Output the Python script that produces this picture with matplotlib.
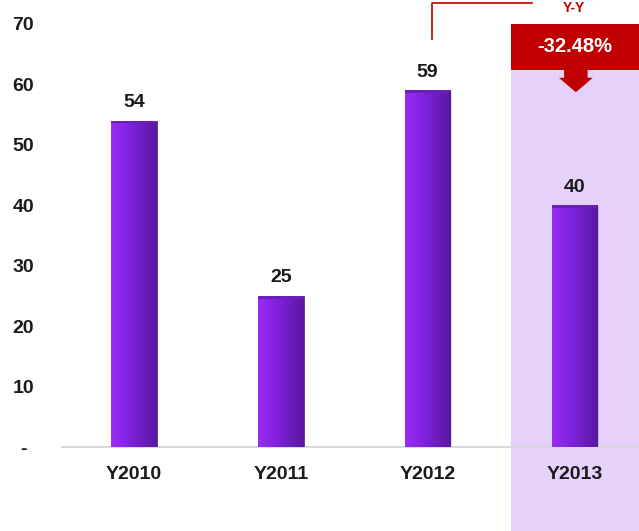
import numpy as np
import matplotlib
matplotlib.use("Agg")
import matplotlib.pyplot as plt
from matplotlib.patches import Rectangle, Polygon
from matplotlib.colors import LinearSegmentedColormap

plt.rcParams['font.family'] = ['Liberation Sans', 'DejaVu Sans']

# data
years = ["Y2010", "Y2011", "Y2012", "Y2013"]
values = [54, 25, 59, 40]
yticks = [0, 10, 20, 30, 40, 50, 60, 70]
ytick_labels = ["-", "10", "20", "30", "40", "50", "60", "70"]
change_label = "-32.48%"

W, H = 639, 531
fig = plt.figure(figsize=(W / 100, H / 100), dpi=100)
ax_left, ax_bottom = 62 / W, (H - 447) / H
ax = fig.add_axes([ax_left, ax_bottom, 1 - ax_left, (447 - 24) / H])

x = np.arange(len(years))
ax.set_xlim(-0.49, 3.44)
ax.set_ylim(0, 70)

# highlight column for the latest year
hl = Rectangle((2.565, -0.25), 2.0, 1.25, transform=ax.get_xaxis_transform(),
               facecolor="#E5D1FA", edgecolor="none", clip_on=False, zorder=0)
ax.add_patch(hl)

# purple bars with a left-to-right gradient
grad = LinearSegmentedColormap.from_list("bar", ["#9A2CF7", "#7A20D8", "#5A16A0"])
bw = 0.31
bars = ax.bar(x, values, width=bw, color="none", edgecolor="#5A1A9A", linewidth=0.6, zorder=3)
g = np.linspace(0, 1, 100).reshape(1, -1)
for b in bars:
    x0, w, h = b.get_x(), b.get_width(), b.get_height()
    # soft shadow
    ax.add_patch(Rectangle((x0 + 0.012, -0.2), w, h, facecolor="#000000", alpha=0.12,
                           edgecolor="none", zorder=2))
    im = ax.imshow(g, cmap=grad, extent=[x0, x0 + w, 0, h], aspect="auto", zorder=3)
    im.set_clip_path(b)
    ax.add_patch(Rectangle((x0, h - 0.45), w, 0.45, facecolor="#6A1FB8", edgecolor="none", zorder=4))

for xi, v in zip(x, values):
    ax.annotate(str(v), (xi, v), xytext=(0, 7), textcoords="offset points",
                ha="center", va="bottom", fontsize=14, fontweight="bold", color="#1a1a1a")

ax.set_xticks(x)
ax.set_xticklabels(years, fontsize=14, fontweight="bold", color="#1a1a1a")
ax.set_yticks(yticks)
ax.set_yticklabels(ytick_labels, fontsize=14, fontweight="bold", color="#1a1a1a")
for lbl in ax.get_yticklabels():
    lbl.set_horizontalalignment("center")
ax.tick_params(axis="y", length=0, pad=28)
ax.tick_params(axis="x", length=0, pad=14)

for s in ["top", "right", "left"]:
    ax.spines[s].set_visible(False)
ax.spines["bottom"].set_color("#D9D9D9")
ax.spines["bottom"].set_linewidth(1.5)
ax.patch.set_alpha(0)

# red change box with arrow
ax.add_patch(Rectangle((2.565, 62.4), 2.0, 7.6, facecolor="#C00000", edgecolor="none",
                       clip_on=False, zorder=5))
ax.text(3.0, 66.2, change_label, ha="center", va="center", color="white",
        fontsize=14.5, fontweight="bold", zorder=6)
arrow = Polygon([(2.93, 62.5), (3.09, 62.5), (3.09, 61.1), (3.125, 61.1),
                 (3.01, 58.7), (2.895, 61.1), (2.93, 61.1)],
                closed=True, facecolor="#C00000", edgecolor="none", zorder=5)
ax.add_patch(arrow)

# Y-Y bracket
px = lambda v: v / W
py = lambda v: 1 - v / H
fig.add_artist(plt.Line2D([px(432), px(432), px(532)], [py(39), py(3), py(3)],
                          color="#C00000", linewidth=1.2))
fig.text(px(574), py(1), "Y-Y", ha="center", va="top", color="#C00000",
         fontsize=10, fontweight="bold")

fig.savefig("out.png", dpi=100)
